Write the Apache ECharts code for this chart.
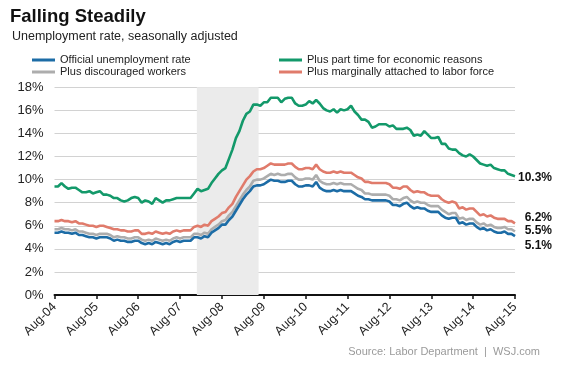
<!DOCTYPE html>
<html>
<head>
<meta charset="utf-8">
<script src="https://cdn.jsdelivr.net/npm/echarts@6/dist/echarts.min.js"></script>
<style>
html,body{margin:0;padding:0;background:#fff;}
#chart{width:563px;height:368px;}
</style>
</head>
<body>
<div id="chart"></div>
<script>
// Monthly, Aug 2004 .. Aug 2015 (index 0 = Aug-04)
const tickLabels = ['Aug-04','Aug-05','Aug-06','Aug-07','Aug-08','Aug-09','Aug-10','Aug-11','Aug-12','Aug-13','Aug-14','Aug-15'];
const seriesNames = ['Official unemployment rate','Plus discouraged workers','Plus part time for economic reasons','Plus marginally attached to labor force'];

const official = [
 5.4,5.4,5.5,5.4,5.4,
 5.3,5.4,5.2,5.2,5.1,5.0,5.0,4.9,5.0,5.0,5.0,4.9,
 4.7,4.8,4.7,4.7,4.6,4.6,4.7,4.7,4.5,4.4,4.5,4.4,
 4.6,4.5,4.4,4.5,4.4,4.6,4.7,4.6,4.7,4.7,4.7,5.0,
 5.0,4.9,5.1,5.0,5.4,5.6,5.8,6.1,6.1,6.5,6.8,7.3,
 7.8,8.3,8.7,9.0,9.4,9.5,9.5,9.6,9.8,10.0,9.9,9.9,
 9.8,9.8,9.9,9.9,9.6,9.4,9.4,9.5,9.5,9.4,9.8,9.3,
 9.1,9.0,9.0,9.1,9.0,9.1,9.0,9.0,9.0,8.8,8.6,8.5,
 8.3,8.3,8.2,8.2,8.2,8.2,8.2,8.1,7.8,7.8,7.7,7.9,
 8.0,7.7,7.5,7.6,7.5,7.5,7.3,7.2,7.2,7.2,6.9,6.7,
 6.6,6.7,6.7,6.2,6.3,6.1,6.2,6.2,5.9,5.7,5.8,5.6,
 5.7,5.5,5.4,5.4,5.5,5.3,5.3,5.1
];
const discouraged = [
 5.7,5.7,5.8,5.7,5.7,
 5.6,5.7,5.5,5.5,5.4,5.3,5.3,5.2,5.3,5.3,5.3,5.2,
 5.0,5.1,5.0,5.0,4.9,4.9,5.0,5.0,4.8,4.7,4.8,4.7,
 4.9,4.8,4.7,4.8,4.7,4.9,5.0,4.9,5.0,5.0,5.0,5.3,
 5.3,5.2,5.4,5.3,5.7,5.9,6.1,6.4,6.5,6.9,7.2,7.7,
 8.2,8.7,9.1,9.4,9.9,10.0,10.0,10.1,10.3,10.5,10.4,10.5,
 10.4,10.4,10.5,10.5,10.2,10.0,10.0,10.1,10.1,10.0,10.4,9.9,
 9.7,9.6,9.6,9.7,9.6,9.7,9.6,9.6,9.6,9.4,9.2,9.1,
 8.8,8.8,8.7,8.7,8.7,8.7,8.7,8.6,8.3,8.3,8.2,8.4,
 8.5,8.2,8.0,8.1,8.0,8.0,7.8,7.7,7.7,7.7,7.4,7.2,
 7.0,7.1,7.1,6.6,6.7,6.5,6.6,6.6,6.3,6.1,6.2,6.0,
 6.1,5.9,5.8,5.8,5.9,5.7,5.7,5.5
];
const partTime = [
 9.4,9.4,9.7,9.4,9.2,
 9.3,9.3,9.1,8.9,8.9,9.0,8.8,8.9,9.0,8.7,8.7,8.6,
 8.4,8.4,8.2,8.1,8.2,8.4,8.5,8.4,8.0,8.2,8.1,7.9,
 8.4,8.2,8.0,8.2,8.2,8.3,8.4,8.4,8.4,8.4,8.4,8.8,
 9.2,9.0,9.1,9.2,9.7,10.1,10.5,10.8,11.0,11.8,12.6,13.6,
 14.2,15.1,15.7,15.9,16.5,16.5,16.4,16.7,16.7,17.1,17.1,17.1,
 16.7,17.0,17.1,17.1,16.6,16.4,16.4,16.5,16.8,16.6,16.9,16.6,
 16.2,16.0,15.9,16.1,15.8,16.1,16.0,16.1,16.4,15.9,15.6,15.2,
 15.2,15.0,14.5,14.6,14.8,14.8,14.8,14.6,14.7,14.4,14.4,14.4,
 14.5,14.3,13.8,13.9,13.8,14.2,13.9,13.6,13.6,13.7,13.1,13.1,
 12.7,12.6,12.6,12.3,12.1,12.0,12.2,12.0,11.7,11.4,11.3,11.2,
 11.3,11.0,10.9,10.8,10.8,10.5,10.4,10.3
];
const marginal = [
 6.4,6.4,6.5,6.4,6.4,
 6.3,6.4,6.2,6.2,6.1,6.0,6.0,5.9,6.0,6.0,5.9,5.8,
 5.7,5.7,5.6,5.6,5.5,5.5,5.6,5.6,5.3,5.3,5.4,5.3,
 5.5,5.4,5.3,5.4,5.3,5.5,5.6,5.5,5.6,5.6,5.6,5.9,
 6.0,5.9,6.1,6.0,6.4,6.6,6.8,7.1,7.2,7.6,7.9,8.5,
 9.0,9.5,10.0,10.3,10.7,10.9,10.9,11.0,11.2,11.4,11.3,11.3,
 11.3,11.3,11.4,11.4,11.1,10.9,10.9,11.0,11.0,10.9,11.3,10.9,
 10.7,10.6,10.6,10.7,10.6,10.7,10.6,10.6,10.6,10.4,10.2,10.1,
 9.8,9.8,9.7,9.7,9.7,9.7,9.7,9.6,9.3,9.3,9.2,9.4,
 9.4,9.1,8.9,9.0,8.9,8.9,8.7,8.6,8.6,8.6,8.3,8.1,
 8.0,8.1,8.0,7.5,7.6,7.4,7.5,7.5,7.2,6.9,7.0,6.8,
 6.9,6.7,6.6,6.6,6.6,6.4,6.4,6.2
];
// recession shading, in months since Aug-04
const recessionStart = 40.8;
const recessionEnd = 58.5;

const colors = {blue:'#1c6ca6', gray:'#adadad', green:'#13996a', red:'#e07b6b'};
const FONT = '"Liberation Sans", Arial, Helvetica, sans-serif';

function pts(arr){ return arr.map((v,i)=>[i,v]); }
function endLabel(dy){
  return {show:true, formatter:p=>p.value[1].toFixed(1)+'%', fontSize:12, fontWeight:'bold',
    color:'#111', fontFamily:FONT, align:'right', distance:0, offset:[37,dy]};
}

const chart = echarts.init(document.getElementById('chart'), null, {renderer:'canvas'});
chart.setOption({
  animation:false,
  textStyle:{fontFamily:FONT},
  title:[
    {text:'Falling Steadily', left:10, top:7, padding:0,
     textStyle:{fontSize:18.5, fontWeight:'bold', color:'#111', fontFamily:FONT}},
    {text:'Unemployment rate, seasonally adjusted', left:12, top:30, padding:0,
     textStyle:{fontSize:12.5, fontWeight:'normal', color:'#222', fontFamily:FONT}},
    {text:'Source: Labor Department  |  WSJ.com', right:23, top:346, padding:0,
     textStyle:{fontSize:11, fontWeight:'normal', color:'#9a9a9a', fontFamily:FONT}}
  ],
  legend:[
    {data:[seriesNames[0], seriesNames[1]], orient:'vertical', left:32, top:54, padding:0,
     itemWidth:23, itemHeight:3, itemGap:0, icon:'rect', selectedMode:false,
     textStyle:{fontSize:11, color:'#222', lineHeight:12, fontFamily:FONT}},
    {data:[seriesNames[2], seriesNames[3]], orient:'vertical', left:279, top:54, padding:0,
     itemWidth:23, itemHeight:3, itemGap:0, icon:'rect', selectedMode:false,
     textStyle:{fontSize:11, color:'#222', lineHeight:12, fontFamily:FONT}}
  ],
  grid:{left:54.5, right:48, top:87.3, bottom:73, containLabel:false},
  xAxis:{
    type:'value', min:0, max:132, interval:12,
    axisLine:{show:true, lineStyle:{color:'#111', width:2}},
    axisTick:{show:true, length:4, lineStyle:{color:'#111', width:1.5}},
    splitLine:{show:false},
    axisLabel:{formatter:v=>tickLabels[Math.round(v/12)], rotate:45, fontSize:12.5, color:'#222', margin:10, fontFamily:FONT}
  },
  yAxis:{
    type:'value', min:0, max:18, interval:2,
    axisLine:{show:false}, axisTick:{show:false},
    splitLine:{lineStyle:{color:'#d2d2d2', width:1}},
    axisLabel:{formatter:'{value}%', fontSize:13, color:'#222', margin:11, fontFamily:FONT}
  },
  series:[
    {name:seriesNames[2], type:'line', data:pts(partTime), showSymbol:false, symbol:'none',
     lineStyle:{color:colors.green, width:2.6}, itemStyle:{color:colors.green},
     endLabel:endLabel(2),
     markArea:{silent:true, itemStyle:{color:'#ebebeb'}, data:[[{xAxis:recessionStart},{xAxis:recessionEnd}]]},
     z:3},
    {name:seriesNames[3], type:'line', data:pts(marginal), showSymbol:false, symbol:'none',
     lineStyle:{color:colors.red, width:2.6}, itemStyle:{color:colors.red}, endLabel:endLabel(-6), z:3},
    {name:seriesNames[1], type:'line', data:pts(discouraged), showSymbol:false, symbol:'none',
     lineStyle:{color:colors.gray, width:2.6}, itemStyle:{color:colors.gray}, endLabel:endLabel(-1), z:3},
    {name:seriesNames[0], type:'line', data:pts(official), showSymbol:false, symbol:'none',
     lineStyle:{color:colors.blue, width:2.6}, itemStyle:{color:colors.blue}, endLabel:endLabel(10), z:3}
  ]
});
</script>
</body>
</html>
